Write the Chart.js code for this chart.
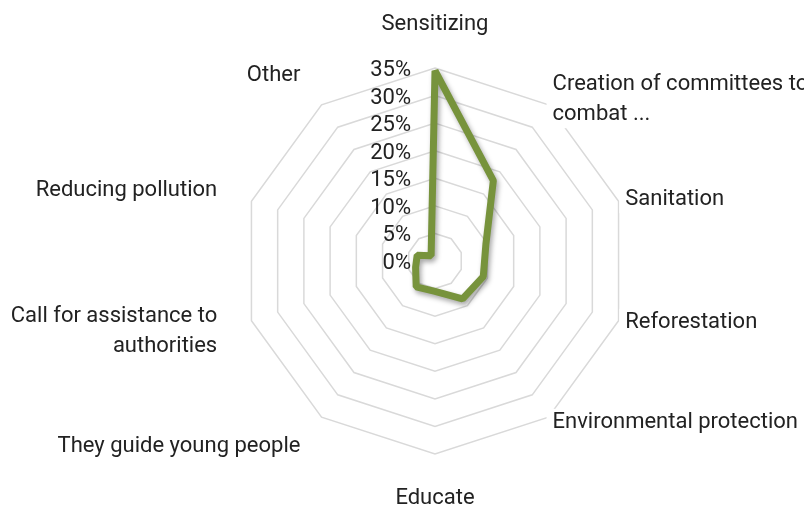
<!DOCTYPE html>
<html>
<head>
<meta charset="utf-8">
<script src="https://cdn.jsdelivr.net/npm/chart.js@4.4.1/dist/chart.umd.min.js"></script>
<style>
  html, body { margin: 0; padding: 0; background: #fff; }
  #wrap { width: 804px; height: 510px; position: relative; }
</style>
</head>
<body>
<div id="wrap"><canvas id="chart"></canvas></div>
<script>
// categories, clockwise from the top
const categories = [
  'Sensitizing',
  ['Creation of committees to', 'combat ...'],
  'Sanitation',
  'Reforestation',
  'Environmental protection',
  'Educate',
  'They guide young people',
  ['Call for assistance to', 'authorities'],
  'Reducing pollution',
  'Other'
];
const shares = [34.5, 18, 9.7, 9.2, 8.5, 5.5, 5.8, 3.7, 3.4, 1.2];
const tickValues = [0, 5, 10, 15, 20, 25, 30, 35];
const tickLabels = ['0%', '5%', '10%', '15%', '20%', '25%', '30%', '35%'];

// extra distance of each category label outside the outer ring
const labelGap = [36, 7, 7, 7, 7, 36, 36, 36, 36, 36];

const FONT = '22px Roboto';
const TEXT = '#222';

const labelsPlugin = {
  id: 'radarText',
  beforeDatasetsDraw(chart) {
    const ctx = chart.ctx;
    const scale = chart.scales.r;
    ctx.save();
    ctx.font = FONT;
    const lh = 30;
    categories.forEach((label, i) => {
      const lines = Array.isArray(label) ? label : [label];
      const p = scale.getPointPosition(i, scale.drawingArea + labelGap[i]);
      const deg = Math.round(scale.getIndexAngle(i) * 180 / Math.PI) % 360;
      let align, firstY;
      if (deg === 0) {
        align = 'center';
        firstY = p.y - 8 - lh * (lines.length - 1);
      } else if (deg === 180) {
        align = 'center';
        firstY = p.y + 8;
      } else {
        align = deg < 180 ? 'left' : 'right';
        firstY = p.y - lh * (lines.length - 1) / 2;
      }
      const w = Math.max(...lines.map(l => ctx.measureText(l).width));
      let x0 = align === 'left' ? p.x : align === 'right' ? p.x - w : p.x - w / 2;
      ctx.fillStyle = '#fff';
      ctx.fillRect(x0 - 6, firstY - 14, w + 12, lh * (lines.length - 1) + 28);
      ctx.fillStyle = TEXT;
      ctx.textAlign = align;
      ctx.textBaseline = 'middle';
      lines.forEach((l, k) => ctx.fillText(l, p.x, firstY + k * lh));
    });
    ctx.restore();
  },
  beforeDatasetDraw(chart) {
    const ctx = chart.ctx;
    ctx.save();
    ctx.shadowColor = 'rgba(0,0,0,0.35)';
    ctx.shadowBlur = 5;
    ctx.shadowOffsetX = 2;
    ctx.shadowOffsetY = 3;
  },
  afterDatasetDraw(chart) {
    chart.ctx.restore();
  },
  afterDraw(chart) {
    const ctx = chart.ctx;
    const scale = chart.scales.r;
    ctx.save();
    ctx.font = FONT;
    ctx.fillStyle = TEXT;
    ctx.textAlign = 'right';
    ctx.textBaseline = 'middle';
    tickValues.forEach((v, i) => {
      const y = scale.yCenter - scale.getDistanceFromCenterForValue(v) + 2.5;
      ctx.fillText(tickLabels[i], scale.xCenter - 24, y);
    });
    ctx.restore();
  }
};

new Chart(document.getElementById('chart'), {
  type: 'radar',
  data: {
    labels: categories,
    datasets: [{
      data: shares,
      borderColor: '#77933c',
      borderWidth: 7,
      borderJoinStyle: 'bevel',
      pointRadius: 0,
      fill: false
    }]
  },
  options: {
    responsive: true,
    maintainAspectRatio: false,
    animation: false,
    layout: { padding: { left: 242, right: 176, top: 68, bottom: 56 } },
    plugins: { legend: { display: false }, tooltip: { enabled: false } },
    scales: {
      r: {
        min: 0,
        max: 35,
        ticks: { stepSize: 5, display: false },
        grid: { color: '#d9d9d9', lineWidth: 1.5 },
        angleLines: { display: false },
        pointLabels: { display: false }
      }
    }
  },
  plugins: [labelsPlugin]
});
</script>
</body>
</html>
